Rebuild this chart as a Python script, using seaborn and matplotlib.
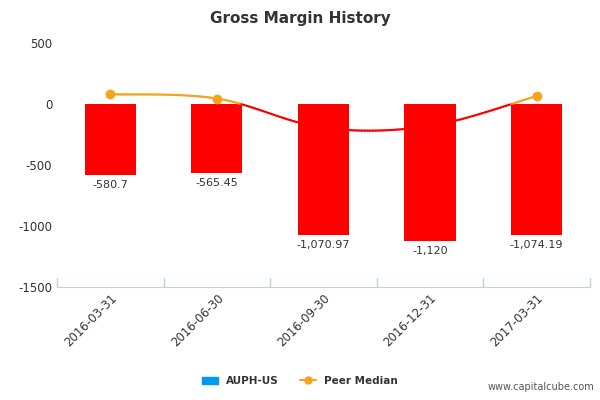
import matplotlib
matplotlib.use("Agg")
import matplotlib.pyplot as plt
import seaborn as sns
import numpy as np
import pandas as pd
from matplotlib.lines import Line2D
from matplotlib.patches import Patch

dates = ["2016-03-31", "2016-06-30", "2016-09-30", "2016-12-31", "2017-03-31"]
aup_values = [-580.7, -565.45, -1070.97, -1120, -1074.19]
bar_labels = ["-580.7", "-565.45", "-1,070.97", "-1,120", "-1,074.19"]
peer_median = [80, 45, -195, -180, 65]

sns.set_style("white")
fig = plt.figure(figsize=(6, 4), dpi=100)
ax = fig.add_axes([0.095, 0.2825, 0.888, 0.61])

df = pd.DataFrame({"date": dates, "value": aup_values})
sns.barplot(data=df, x="date", y="value", color="#ff0000", saturation=1, width=0.48, ax=ax)
for p in ax.patches:
    p.set_edgecolor("none")

for i, (v, lab) in enumerate(zip(aup_values, bar_labels)):
    ax.text(i, v - 40, lab, ha="center", va="top", fontsize=8, color="#333333")

# smooth curve through peer points (Catmull-Rom)
x = np.arange(len(peer_median), dtype=float)
y = np.array(peer_median, dtype=float)
xs, ys = [], []
px = np.concatenate([[x[0]], x, [x[-1]]])
py = np.concatenate([[y[0]], y, [y[-1]]])
t = np.linspace(0, 1, 40)
for k in range(1, len(px) - 2):
    p0, p1, p2, p3 = [np.array([px[j], py[j]]) for j in range(k - 1, k + 3)]
    pts = 0.5 * ((2 * p1)[:, None] + (-p0 + p2)[:, None] * t
                 + (2 * p0 - 5 * p1 + 4 * p2 - p3)[:, None] * t ** 2
                 + (-p0 + 3 * p1 - 3 * p2 + p3)[:, None] * t ** 3)
    xs.extend(pts[0]); ys.extend(pts[1])
xs = np.array(xs); ys = np.array(ys)
for j in range(len(xs) - 1):
    c = "#f7a21b" if (ys[j] + ys[j + 1]) / 2 >= 0 else "#ff0000"
    ax.plot(xs[j:j + 2], ys[j:j + 2], color=c, lw=1.5, solid_capstyle="round")
pos = y >= 0
ax.scatter(x[pos], y[pos], color="#f7a21b", s=36, zorder=5)

ax.set_ylim(-1500, 500)
ax.set_xlim(-0.5, 4.5)
ax.set_yticks([-1500, -1000, -500, 0, 500])
ax.set_yticklabels(["-1500", "-1000", "-500", "0", "500"])
ax.set_xlabel(""); ax.set_ylabel("")
for s in ["top", "right", "left"]:
    ax.spines[s].set_visible(False)
ax.spines["bottom"].set_color("#c0d0e0")
ax.spines["bottom"].set_position(("data", -1500))
ax.tick_params(axis="y", length=0, labelsize=8.5, colors="#333333")
ax.tick_params(axis="x", length=0, labelsize=8.5, colors="#333333")
plt.setp(ax.get_xticklabels(), rotation=45, ha="right", rotation_mode="anchor")
for b in np.arange(-0.5, 5.0, 1.0):
    ax.plot([b, b], [-1500, -1430], color="#c0d0e0", lw=1, clip_on=False)

fig.text(0.5, 0.955, "Gross Margin History", ha="center", va="center",
         fontsize=11, fontweight="bold", color="#333333")

handles = [Patch(color="#0099ee", label="AUPH-US"),
           Line2D([0], [0], color="#f7a21b", marker="o", markersize=5, label="Peer Median")]
leg = fig.legend(handles=handles, loc="center", bbox_to_anchor=(0.5, 0.048), ncol=2,
                 frameon=False, fontsize=7.5, handlelength=1.5, columnspacing=2)
for t_ in leg.get_texts():
    t_.set_fontweight("bold"); t_.set_color("#333333")

fig.text(0.99, 0.02, "www.capitalcube.com", ha="right", va="bottom", fontsize=7, color="#555555")
fig.savefig("out.png", dpi=100)
